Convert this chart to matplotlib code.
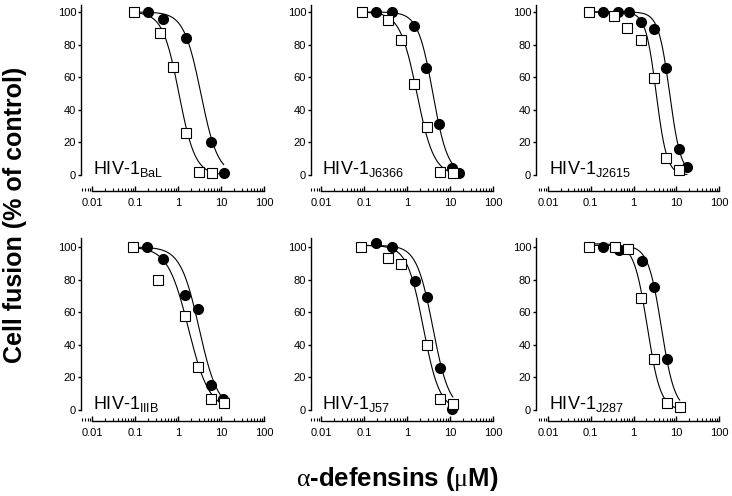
import numpy as np
import matplotlib.pyplot as plt

plt.rcParams['font.family'] = ['Liberation Sans', 'DejaVu Sans']
plt.rcParams['mathtext.fontset'] = 'custom'
plt.rcParams['mathtext.rm'] = 'Liberation Serif'
plt.rcParams['mathtext.sf'] = 'Liberation Sans'

# virus strains (subscript of the HIV-1 label)
strains = ['BaL', 'J6366', 'J2615', 'IIIB', 'J57', 'J287']

# open squares
sq_conc = [
    [0.093, 0.375, 0.77, 1.5, 3.1, 6.2],
    [0.088, 0.355, 0.72, 1.46, 2.86, 5.85, 11.5],
    [0.089, 0.35, 0.71, 1.46, 3.0, 5.7, 11.6],
    [0.09, 0.35, 1.43, 2.95, 6.0, 11.5],
    [0.086, 0.354, 0.72, 2.93, 5.9, 11.6],
    [0.091, 0.37, 0.75, 1.48, 2.97, 5.96, 12.0],
]
sq_fusion = [
    [100, 87, 66, 25.5, 2, 1],
    [100, 95, 82.6, 55.7, 29.6, 1.6, 1],
    [100, 97.4, 90, 82.7, 59.3, 10.2, 2.9],
    [100, 79.9, 57.8, 26.2, 6.6, 4.3],
    [100, 93, 89.6, 39.8, 6.9, 3.5],
    [100, 100, 99, 68.6, 31, 4.3, 2],
]

# filled circles
ci_conc = [
    [0.2, 0.46, 1.55, 6.0, 11.5],
    [0.19, 0.44, 1.48, 2.8, 5.6, 11.0, 16.6],
    [0.196, 0.43, 0.79, 1.5, 3.0, 5.7, 11.6, 17.7],
    [0.19, 0.46, 1.45, 2.9, 5.7, 11.1],
    [0.186, 0.44, 1.51, 2.93, 5.7, 11.0],
    [0.197, 0.45, 1.56, 3.0, 6.0],
]
ci_fusion = [
    [100, 95.5, 84, 20, 1],
    [100, 100, 91.6, 65.7, 31, 4, 1.2],
    [100, 100, 100, 94, 89.6, 65.4, 15.9, 5],
    [100, 92.8, 70.7, 61.9, 15.2, 7],
    [102.2, 100.2, 79.4, 69.2, 25.9, 0.4],
    [100, 98.2, 91.2, 75.7, 31],
]

# sigmoidal fit parameters (top, IC50, Hill slope)
sq_top = [100, 100, 100, 100, 101, 102]
sq_ic50 = [1.05, 1.7, 3.4, 1.75, 2.4, 2.1]
sq_hill = [2.3, 2.2, 3.5, 1.8, 2.3, 2.8]
ci_top = [100, 100, 100, 100, 101, 101]
ci_ic50 = [3.4, 4.0, 7.0, 3.1, 4.0, 4.5]
ci_hill = [2.2, 2.5, 3.3, 2.0, 2.3, 2.8]

W, H = 732, 496
fig = plt.figure(figsize=(W / 100, H / 100), dpi=100)

# pixel layout: left spine, x=0.01, x=100 per column; y=100, y=0, x-axis, spine top per row
cols = [(81, 92, 264), (311, 321, 493), (536, 548, 719)]
rows = [(12, 175, 191, 5), (247, 410, 421, 238)]


def logistic(x, top, ic50, hill):
    return top / (1 + (x / ic50) ** hill)


for i in range(6):
    spine_px, x0, x1 = cols[i % 3]
    y100, y0, xax, ytop = rows[i // 3]
    ax = fig.add_axes([spine_px / W, 1 - xax / H, (x1 - spine_px) / W, (xax - ytop) / H])

    dec = (x1 - x0) / 4
    ax.set_xscale('log')
    ax.set_xlim(10 ** (-2 - (x0 - spine_px) / dec), 100)
    sc = (y0 - y100) / 100
    ax.set_ylim(-(xax - y0) / sc, (y0 - ytop) / sc)

    xmax = max(max(sq_conc[i]), max(ci_conc[i]))
    xs = np.logspace(np.log10(0.09), np.log10(xmax), 300)
    ax.plot(xs, logistic(xs, ci_top[i], ci_ic50[i], ci_hill[i]), color='black', lw=0.8, zorder=2)
    ax.plot(xs, logistic(xs, sq_top[i], sq_ic50[i], sq_hill[i]), color='black', lw=0.8, zorder=2)
    ax.plot(ci_conc[i], ci_fusion[i], 'o', ms=7, mfc='black', mec='black', zorder=3)
    ax.plot(sq_conc[i], sq_fusion[i], 's', ms=6.5, mfc='white', mec='black', mew=0.8, zorder=4)

    ax.spines['top'].set_visible(False)
    ax.spines['right'].set_visible(False)
    ax.spines['left'].set_bounds(0, ax.get_ylim()[1])
    ax.spines['bottom'].set_bounds(0.01, 100)
    for s in ('left', 'bottom'):
        ax.spines[s].set_linewidth(1.0)

    ax.set_yticks([0, 20, 40, 60, 80, 100])
    ax.set_xticks([0.01, 0.1, 1, 10, 100])
    ax.set_xticklabels(['0.01', '0.1', '1', '10', '100'])
    ax.xaxis.set_minor_locator(plt.LogLocator(base=10, subs=np.arange(2, 10)))
    ax.xaxis.set_minor_formatter(plt.NullFormatter())
    ax.tick_params(axis='y', direction='out', length=2.5, width=1.0, pad=1, labelsize=8)
    ax.tick_params(axis='x', which='major', direction='in', length=3.5, width=1.0, pad=5, labelsize=8)
    ax.tick_params(axis='x', which='minor', direction='in', length=2, width=0.8)

    ax.text(0.0105, 0.5, r'HIV-1$_{\mathsf{' + strains[i] + '}}$', fontsize=13,
            ha='left', va='baseline')

fig.text(15 / W, 1 - 215 / H, 'Cell fusion (% of control)', rotation=90,
         ha='center', va='center', fontsize=18, fontweight='bold')
fig.text(397 / W, 1 - 479 / H, r'$\mathrm{\alpha}$-defensins ($\mathrm{\mu}$M)',
         ha='center', va='center', fontsize=18.5, fontweight='bold')

fig.savefig('out.png', dpi=100)
